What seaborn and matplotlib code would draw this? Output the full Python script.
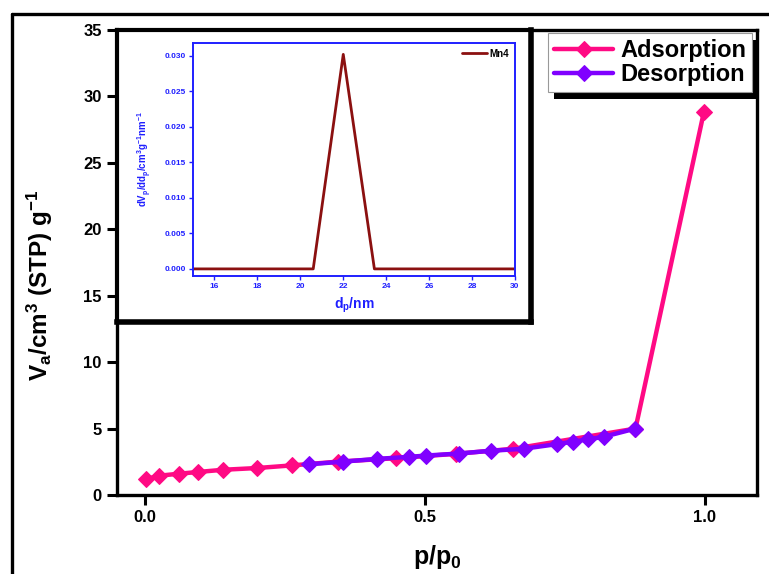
import matplotlib
matplotlib.use("Agg")
import matplotlib.pyplot as plt
import seaborn as sns
import pandas as pd
from matplotlib.lines import Line2D
from matplotlib.patches import Rectangle

# ---- data ----
ads_x = [0.002, 0.025, 0.06, 0.094, 0.14, 0.2, 0.263, 0.344, 0.449, 0.555, 0.658, 0.876, 0.998]
ads_y = [1.19, 1.45, 1.6, 1.73, 1.9, 2.03, 2.23, 2.51, 2.77, 3.1, 3.48, 5.0, 28.8]
des_x = [0.293, 0.353, 0.415, 0.472, 0.502, 0.56, 0.618, 0.676, 0.736, 0.764, 0.792, 0.82, 0.876]
des_y = [2.31, 2.51, 2.72, 2.87, 2.97, 3.12, 3.33, 3.48, 3.83, 4.01, 4.19, 4.39, 5.0]

psd_d = [15.0, 20.6, 22.0, 23.45, 30.0]
psd_v = [0.0, 0.0, 0.0302, 0.0, 0.0]

xticks_main = [0.0, 0.5, 1.0]
yticks_main = [0, 5, 10, 15, 20, 25, 30, 35]
xticks_in = [16, 18, 20, 22, 24, 26, 28, 30]
yticks_in = [0.000, 0.005, 0.010, 0.015, 0.020, 0.025, 0.030]

pink = "#FF0A84"
purple = "#8000FF"
blue = "#1F1FFF"
darkred = "#8B1010"

sns.set_theme(style="ticks")
plt.rcParams['font.family'] = ['Liberation Sans', 'DejaVu Sans']
plt.rcParams['font.weight'] = 'bold'
plt.rcParams['mathtext.fontset'] = 'custom'
plt.rcParams['mathtext.rm'] = 'Liberation Sans:bold'
plt.rcParams['mathtext.bf'] = 'Liberation Sans:bold'
plt.rcParams['mathtext.it'] = 'Liberation Sans:bold'
plt.rcParams['mathtext.default'] = 'bf'
plt.rcParams['text.color'] = 'black'
plt.rcParams['axes.labelcolor'] = 'black'
plt.rcParams['xtick.color'] = 'black'
plt.rcParams['ytick.color'] = 'black'

W, H = 769, 574
fig = plt.figure(figsize=(W / 100, H / 100), dpi=100)

def fr(l, t, r, b):
    return [l / W, 1 - b / H, (r - l) / W, (b - t) / H]

# outer frame
fig.add_artist(Line2D([12 / W, 1.0], [1 - 14 / H, 1 - 14 / H], color='black', lw=2.4, transform=fig.transFigure))
fig.add_artist(Line2D([12 / W, 12 / W], [1 - 14 / H, 0.0], color='black', lw=2.4, transform=fig.transFigure))

# ---- main axes ----
ax = fig.add_axes(fr(117, 30, 757, 495))
df_a = pd.DataFrame({'x': ads_x, 'y': ads_y})
df_d = pd.DataFrame({'x': des_x, 'y': des_y})
sns.lineplot(data=df_a, x='x', y='y', ax=ax, color=pink, lw=3.2, marker='D', markersize=8,
             markeredgecolor=pink, sort=False, label='Adsorption')
sns.lineplot(data=df_d, x='x', y='y', ax=ax, color=purple, lw=3.2, marker='D', markersize=8,
             markeredgecolor=purple, sort=False, label='Desorption')
ax.set_xlim(-0.05, 1.093)
ax.set_ylim(0, 35)
ax.set_xticks(xticks_main)
ax.set_xticklabels([f"{v:.1f}" for v in xticks_main])
ax.set_yticks(yticks_main)
ax.set_yticklabels([str(v) for v in yticks_main])
ax.tick_params(direction='out', length=7, width=2.2, labelsize=12, pad=4, colors='black')
for s in ax.spines.values():
    s.set_linewidth(2.4)
    s.set_color('black')
ax.set_xlabel('p/p$_0$', fontsize=18, fontweight='bold')
ax.xaxis.set_label_coords(0.5, -0.103)
ax.set_ylabel('V$_a$/cm$^3$ (STP) g$^{-1}$', fontsize=17.5, fontweight='bold')
ax.yaxis.set_label_coords(-0.097, 0.45)

leg = ax.legend(loc='upper right', bbox_to_anchor=(752 / W, 1 - 33 / H), bbox_transform=fig.transFigure,
                fontsize=17, handlelength=2.5, handletextpad=0.3, borderpad=0.25, labelspacing=0.05,
                borderaxespad=0, frameon=True, fancybox=False, edgecolor='#999999', framealpha=1)
for t in leg.get_texts():
    t.set_fontweight('bold')
leg.get_frame().set_linewidth(0.8)
leg.set_zorder(10)
leg._legend_box.sep = 0

fig.canvas.draw()
bb = leg.get_window_extent().transformed(fig.transFigure.inverted())
sh = Rectangle((bb.x0 + 6 / W, bb.y0 - 7 / H), bb.width, bb.height, transform=fig.transFigure,
               facecolor='black', edgecolor='none', zorder=9)
ax.add_artist(sh)
sh.set_transform(fig.transFigure)
sh.set_clip_on(False)

# ---- inset panel ----
panel = fig.add_axes(fr(117, 30, 531, 322))
panel.set_xticks([])
panel.set_yticks([])
panel.set_facecolor('white')
for s in panel.spines.values():
    s.set_linewidth(3.0)
    s.set_color('black')
panel.spines['bottom'].set_linewidth(4.0)
panel.spines['right'].set_linewidth(4.0)

ins = fig.add_axes(fr(193, 43, 515, 276))
df_p = pd.DataFrame({'d': psd_d, 'v': psd_v})
sns.lineplot(data=df_p, x='d', y='v', ax=ins, color=darkred, lw=2.0, sort=False, label='Mn4')
ins.set_xlim(15, 30)
ins.set_ylim(-0.001, 0.0318)
ins.set_xticks(xticks_in)
ins.set_xticklabels([str(v) for v in xticks_in])
ins.set_yticks(yticks_in)
ins.set_yticklabels([f"{v:.3f}" for v in yticks_in])
ins.tick_params(direction='out', length=3, width=1.0, labelsize=6, pad=2, colors=blue)
for s in ins.spines.values():
    s.set_linewidth(1.4)
    s.set_color(blue)
ins.set_xlabel('d$_p$/nm', fontsize=10, fontweight='bold', color=blue, labelpad=4)
ins.set_ylabel('dV$_p$/dd$_p$/cm$^3$g$^{-1}$nm$^{-1}$', fontsize=7, fontweight='bold', color=blue, labelpad=8)
l2 = ins.legend(loc='upper right', fontsize=7, frameon=False, handlelength=2.5, handletextpad=0.3,
                borderaxespad=0.2)
for t in l2.get_texts():
    t.set_fontweight('bold')
    t.set_color('black')

fig.savefig('out.png', dpi=100)
